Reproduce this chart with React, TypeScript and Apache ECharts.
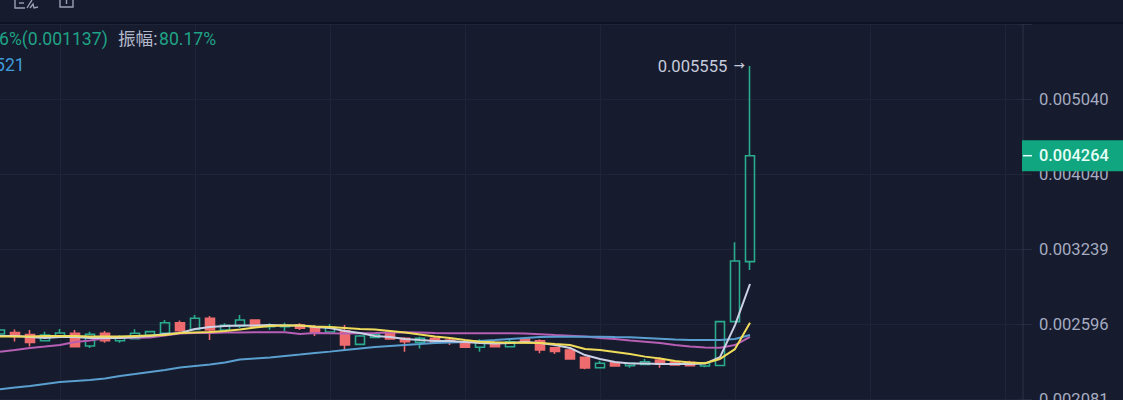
import React, { useEffect, useRef } from "react";
import * as echarts from "echarts";

const opens = [
  0.002521, 0.002532, 0.002517, 0.002471, 0.002506, 0.002526, 0.002433, 0.002526, 0.002471, 0.002486,
  0.002511, 0.002526, 0.002606, 0.002554, 0.00264, 0.00255, 0.002581, 0.002627, 0.002575, 0.002575,
  0.002588, 0.002575, 0.002536, 0.002545, 0.002445, 0.002496, 0.002533, 0.002489, 0.00246, 0.002489,
  0.002476, 0.00246, 0.002424, 0.002457, 0.002428, 0.002484, 0.002471, 0.002421, 0.002404, 0.002353,
  0.002282, 0.002316, 0.002295, 0.002305, 0.002335, 0.002321, 0.002319, 0.002294, 0.002297, 0.002614,
  0.00312,
];
const closes = [
  0.00255, 0.002502, 0.002458, 0.002513, 0.002528, 0.002428, 0.002519, 0.002471, 0.002496, 0.002526,
  0.002538, 0.002606, 0.002545, 0.00264, 0.00255, 0.002586, 0.002627, 0.002575, 0.002588, 0.002586,
  0.002564, 0.002533, 0.002571, 0.00244, 0.002506, 0.002518, 0.002484, 0.002464, 0.002489, 0.00246,
  0.002464, 0.002424, 0.002471, 0.002428, 0.002464, 0.002457, 0.002404, 0.002395, 0.002342, 0.00228,
  0.002312, 0.002294, 0.002312, 0.002323, 0.002307, 0.0023, 0.002295, 0.002312, 0.002614, 0.003126,
  0.004264,
];
const lows = [
  0.002498, 0.002465, 0.002429, 0.002471, 0.002491, 0.002426, 0.002419, 0.002457, 0.002457, 0.002484,
  0.002506, 0.002526, 0.002526, 0.00255, 0.002476, 0.002545, 0.002564, 0.002564, 0.002553, 0.002543,
  0.00255, 0.002506, 0.002536, 0.002404, 0.00244, 0.002489, 0.002481, 0.002392, 0.002416, 0.002452,
  0.00244, 0.002421, 0.002392, 0.002424, 0.002428, 0.002452, 0.002381, 0.002376, 0.002342, 0.002272,
  0.002282, 0.002289, 0.002282, 0.0023, 0.002282, 0.002295, 0.002294, 0.002285, 0.002297, 0.002612,
  0.003044,
];
const highs = [
  0.002558, 0.002554, 0.00255, 0.002538, 0.002558, 0.00255, 0.002538, 0.002543, 0.002511, 0.002556,
  0.002545, 0.002627, 0.002623, 0.002666, 0.002658, 0.002601, 0.002666, 0.002632, 0.002601, 0.002606,
  0.002601, 0.002588, 0.002596, 0.002588, 0.002513, 0.002526, 0.00255, 0.002496, 0.002501, 0.002506,
  0.002489, 0.002471, 0.002481, 0.002464, 0.002489, 0.002489, 0.002481, 0.002428, 0.002416, 0.002357,
  0.00233, 0.002323, 0.002316, 0.002342, 0.002353, 0.00233, 0.00233, 0.002323, 0.002622, 0.003303,
  0.005555,
];
const maWhite = [
  0.002506, 0.002506, 0.002498, 0.002491, 0.002498, 0.002498, 0.002491, 0.002491, 0.002491, 0.002498,
  0.002506, 0.002521, 0.002528, 0.002558, 0.002573, 0.002581, 0.002584, 0.002584, 0.002588, 0.002584,
  0.002584, 0.002573, 0.002566, 0.002543, 0.002528, 0.002506, 0.002498, 0.002484, 0.002476, 0.002469,
  0.002469, 0.002462, 0.002455, 0.002451, 0.002455, 0.002462, 0.002455, 0.00244, 0.002419, 0.002369,
  0.002342, 0.002321, 0.00231, 0.00231, 0.002307, 0.002307, 0.002307, 0.00231, 0.002355, 0.002588,
  0.002921,
];
const maYellow = [
  0.002502, 0.002502, 0.002502, 0.002506, 0.002506, 0.002506, 0.002502, 0.002502, 0.002502, 0.002506,
  0.00251, 0.002513, 0.002528, 0.002532, 0.002536, 0.002543, 0.002554, 0.002569, 0.002581, 0.002584,
  0.002584, 0.002577, 0.002573, 0.002566, 0.002558, 0.002554, 0.002543, 0.002532, 0.002517, 0.002502,
  0.002491, 0.002476, 0.002464, 0.00246, 0.002457, 0.002456, 0.002455, 0.002447, 0.00244, 0.002411,
  0.002404, 0.00239, 0.002376, 0.002358, 0.002345, 0.002328, 0.002317, 0.002312, 0.002342, 0.002411,
  0.002606,
];
const maMagenta = [
  0.002392, 0.002404, 0.002419, 0.002429, 0.00244, 0.002462, 0.002472, 0.002489, 0.002493, 0.002493,
  0.002495, 0.00251, 0.002525, 0.002528, 0.002528, 0.002531, 0.002531, 0.002533, 0.002533, 0.002533,
  0.002521, 0.002528, 0.002526, 0.002525, 0.002526, 0.002528, 0.002532, 0.002533, 0.002532, 0.002528,
  0.002526, 0.002526, 0.002526, 0.002526, 0.002526, 0.002525, 0.002519, 0.002513, 0.002508, 0.002502,
  0.002491, 0.002484, 0.002472, 0.002464, 0.002455, 0.00244, 0.002429, 0.002422, 0.002421, 0.00244,
  0.0025,
];
const maBlue = [
  0.002141, 0.002153, 0.002162, 0.002175, 0.002188, 0.002195, 0.002201, 0.002211, 0.002227, 0.00224,
  0.002254, 0.002267, 0.002284, 0.002294, 0.002304, 0.002318, 0.002338, 0.002345, 0.002352, 0.002362,
  0.002372, 0.002383, 0.002393, 0.002404, 0.002415, 0.002426, 0.002433, 0.00244, 0.002447, 0.002455,
  0.002458, 0.002462, 0.002469, 0.002476, 0.002484, 0.002491, 0.002498, 0.002501, 0.002501, 0.002501,
  0.002501, 0.002498, 0.002496, 0.002491, 0.002486, 0.00248, 0.002476, 0.002476, 0.002476, 0.002484,
  0.002513,
];
const categories = Array.from({ length: 69 }, (_, i) => String(i));
const tickLabels = ["0.002081", "0.002596", "0.003239", "0.004040", "0.005040"];
const highPrice = 0.005555;
const highPriceLabel = "0.005555";
const lastPrice = 0.004264;
const lastPriceLabel = "0.004264";

const BASE_PRICE = 0.002081;
const RATIO = 1.2475;
const logScale = (p: number) => Math.log(p / BASE_PRICE) / Math.log(RATIO);

const BG = "#161b2d";
const GRID = "#1f2538";
const UP = "#2bab8e";
const DOWN = "#ee6b6e";
const FONT = "Roboto, 'Noto Sans CJK SC', sans-serif";

export default function App() {
  const ref = useRef<HTMLDivElement>(null);
  useEffect(() => {
    const chart = echarts.init(ref.current!, undefined, { renderer: "svg" });
    const line = (name: string, values: number[], color: string, z: number) => ({
      name,
      type: "line",
      data: values.map(logScale),
      symbol: "none",
      smooth: false,
      z,
      lineStyle: { color, width: 2 },
    });
    chart.setOption({
      animation: false,
      backgroundColor: BG,
      grid: { left: 0, top: 24, width: 1020, height: 375, outerBoundsMode: "none" },
      xAxis: {
        type: "category",
        data: categories,
        boundaryGap: false,
        axisLine: { show: false },
        axisTick: { show: false },
        axisLabel: { show: false },
        splitLine: {
          show: true,
          interval: (i: number) => i % 9 === 4,
          lineStyle: { color: GRID, width: 1 },
        },
      },
      yAxis: {
        type: "value",
        position: "right",
        min: 0,
        max: 5,
        interval: 1,
        axisLine: { show: false },
        axisTick: { show: true, length: 12, lineStyle: { color: "#262c40" } },
        axisLabel: {
          margin: 19,
          color: "#a5abc0",
          fontFamily: FONT,
          fontSize: 16.6,
          formatter: (v: number) => tickLabels[Math.round(v)] ?? "",
        },
        splitLine: { show: true, lineStyle: { color: GRID, width: 1 } },
      },
      series: [
        {
          name: "K",
          type: "candlestick",
          barWidth: 10,
          z: 2,
          data: opens.map((o, i) => [
            logScale(o),
            logScale(closes[i]),
            logScale(lows[i]),
            logScale(highs[i]),
          ]),
          itemStyle: {
            color: "transparent",
            color0: DOWN,
            borderColor: UP,
            borderColor0: DOWN,
            borderWidth: 1.6,
          },
          markPoint: {
            symbol: "circle",
            symbolSize: 0,
            silent: true,
            data: [
              {
                coord: ["50", logScale(highPrice)],
                label: {
                  show: true,
                  position: "left",
                  distance: 5,
                  formatter: `{t|${highPriceLabel}}  {a|→}`,
                  rich: {
                    t: { color: "#c6cbdc", fontFamily: FONT, fontSize: 16.6 },
                    a: { color: "#c6cbdc", fontFamily: FONT, fontSize: 11, fontWeight: 700 },
                  },
                },
              },
            ],
          },
        },
        line("MA5", maWhite, "#ccd2e6", 5),
        line("MA10", maYellow, "#efdc5a", 6),
        line("MA30", maMagenta, "#b65fb4", 3),
        line("MA60", maBlue, "#5a9fd0", 4),
      ],
    });

    const lastY = chart.convertToPixel({ yAxisIndex: 0 }, logScale(lastPrice)) as number;
    const iconStyle = { stroke: "#9aa0b4", lineWidth: 1.4, fill: "none" };
    chart.setOption({
      graphic: [
        { type: "rect", z: 50, shape: { x: 0, y: 0, width: 1123, height: 23 }, style: { fill: BG } },
        { type: "line", z: 51, shape: { x1: 0, y1: 23, x2: 1123, y2: 23 }, style: { stroke: "#0d1120", lineWidth: 1.5 } },
        { type: "line", z: 51, shape: { x1: 1023, y1: 24, x2: 1023, y2: 400 }, style: { stroke: "#2d3245", lineWidth: 1 } },
        { type: "polyline", z: 52, shape: { points: [[15, 0], [15, 8], [25, 8]] }, style: iconStyle },
        { type: "line", z: 52, shape: { x1: 19, y1: 3, x2: 24, y2: 3 }, style: iconStyle },
        { type: "polyline", z: 52, shape: { points: [[27, 8], [30, 3], [32, 0]] }, style: iconStyle },
        { type: "polyline", z: 52, shape: { points: [[30, 8], [33, 4], [34, 8], [38, 7]] }, style: iconStyle },
        { type: "polyline", z: 52, shape: { points: [[60, 0], [60, 7], [73, 7], [73, 0]] }, style: iconStyle },
        { type: "line", z: 52, shape: { x1: 66.5, y1: 0, x2: 66.5, y2: 4 }, style: iconStyle },
        {
          type: "text", z: 52, x: -1, y: 39,
          style: { text: "6%(0.001137)", fill: "#1fa386", font: `17.6px ${FONT}`, textVerticalAlign: "middle" },
        },
        {
          type: "text", z: 52, x: 118, y: 39,
          style: { text: "振幅:", fill: "#b4b9ca", font: `17.6px ${FONT}`, textVerticalAlign: "middle" },
        },
        {
          type: "text", z: 52, x: 159, y: 39,
          style: { text: "80.17%", fill: "#1fa386", font: `17.6px ${FONT}`, textVerticalAlign: "middle" },
        },
        {
          type: "text", z: 52, x: -5, y: 65,
          style: { text: "521", fill: "#3f9bdc", font: `17.6px ${FONT}`, textVerticalAlign: "middle" },
        },
        { type: "rect", z: 60, shape: { x: 1022, y: lastY - 15.5, width: 101, height: 31 }, style: { fill: "#10a680" } },
        { type: "line", z: 61, shape: { x1: 1023, y1: lastY, x2: 1032, y2: lastY }, style: { stroke: "#e6fff7", lineWidth: 1.5 } },
        {
          type: "text", z: 61, x: 1039, y: lastY,
          style: { text: lastPriceLabel, fill: "#e6fff7", font: `500 16.4px ${FONT}`, textVerticalAlign: "middle" },
        },
      ],
    });
    return () => chart.dispose();
  }, []);
  return (
    <div
      ref={ref}
      style={{ position: "fixed", left: 0, top: 0, width: 1123, height: 400, overflow: "hidden" }}
    />
  );
}
